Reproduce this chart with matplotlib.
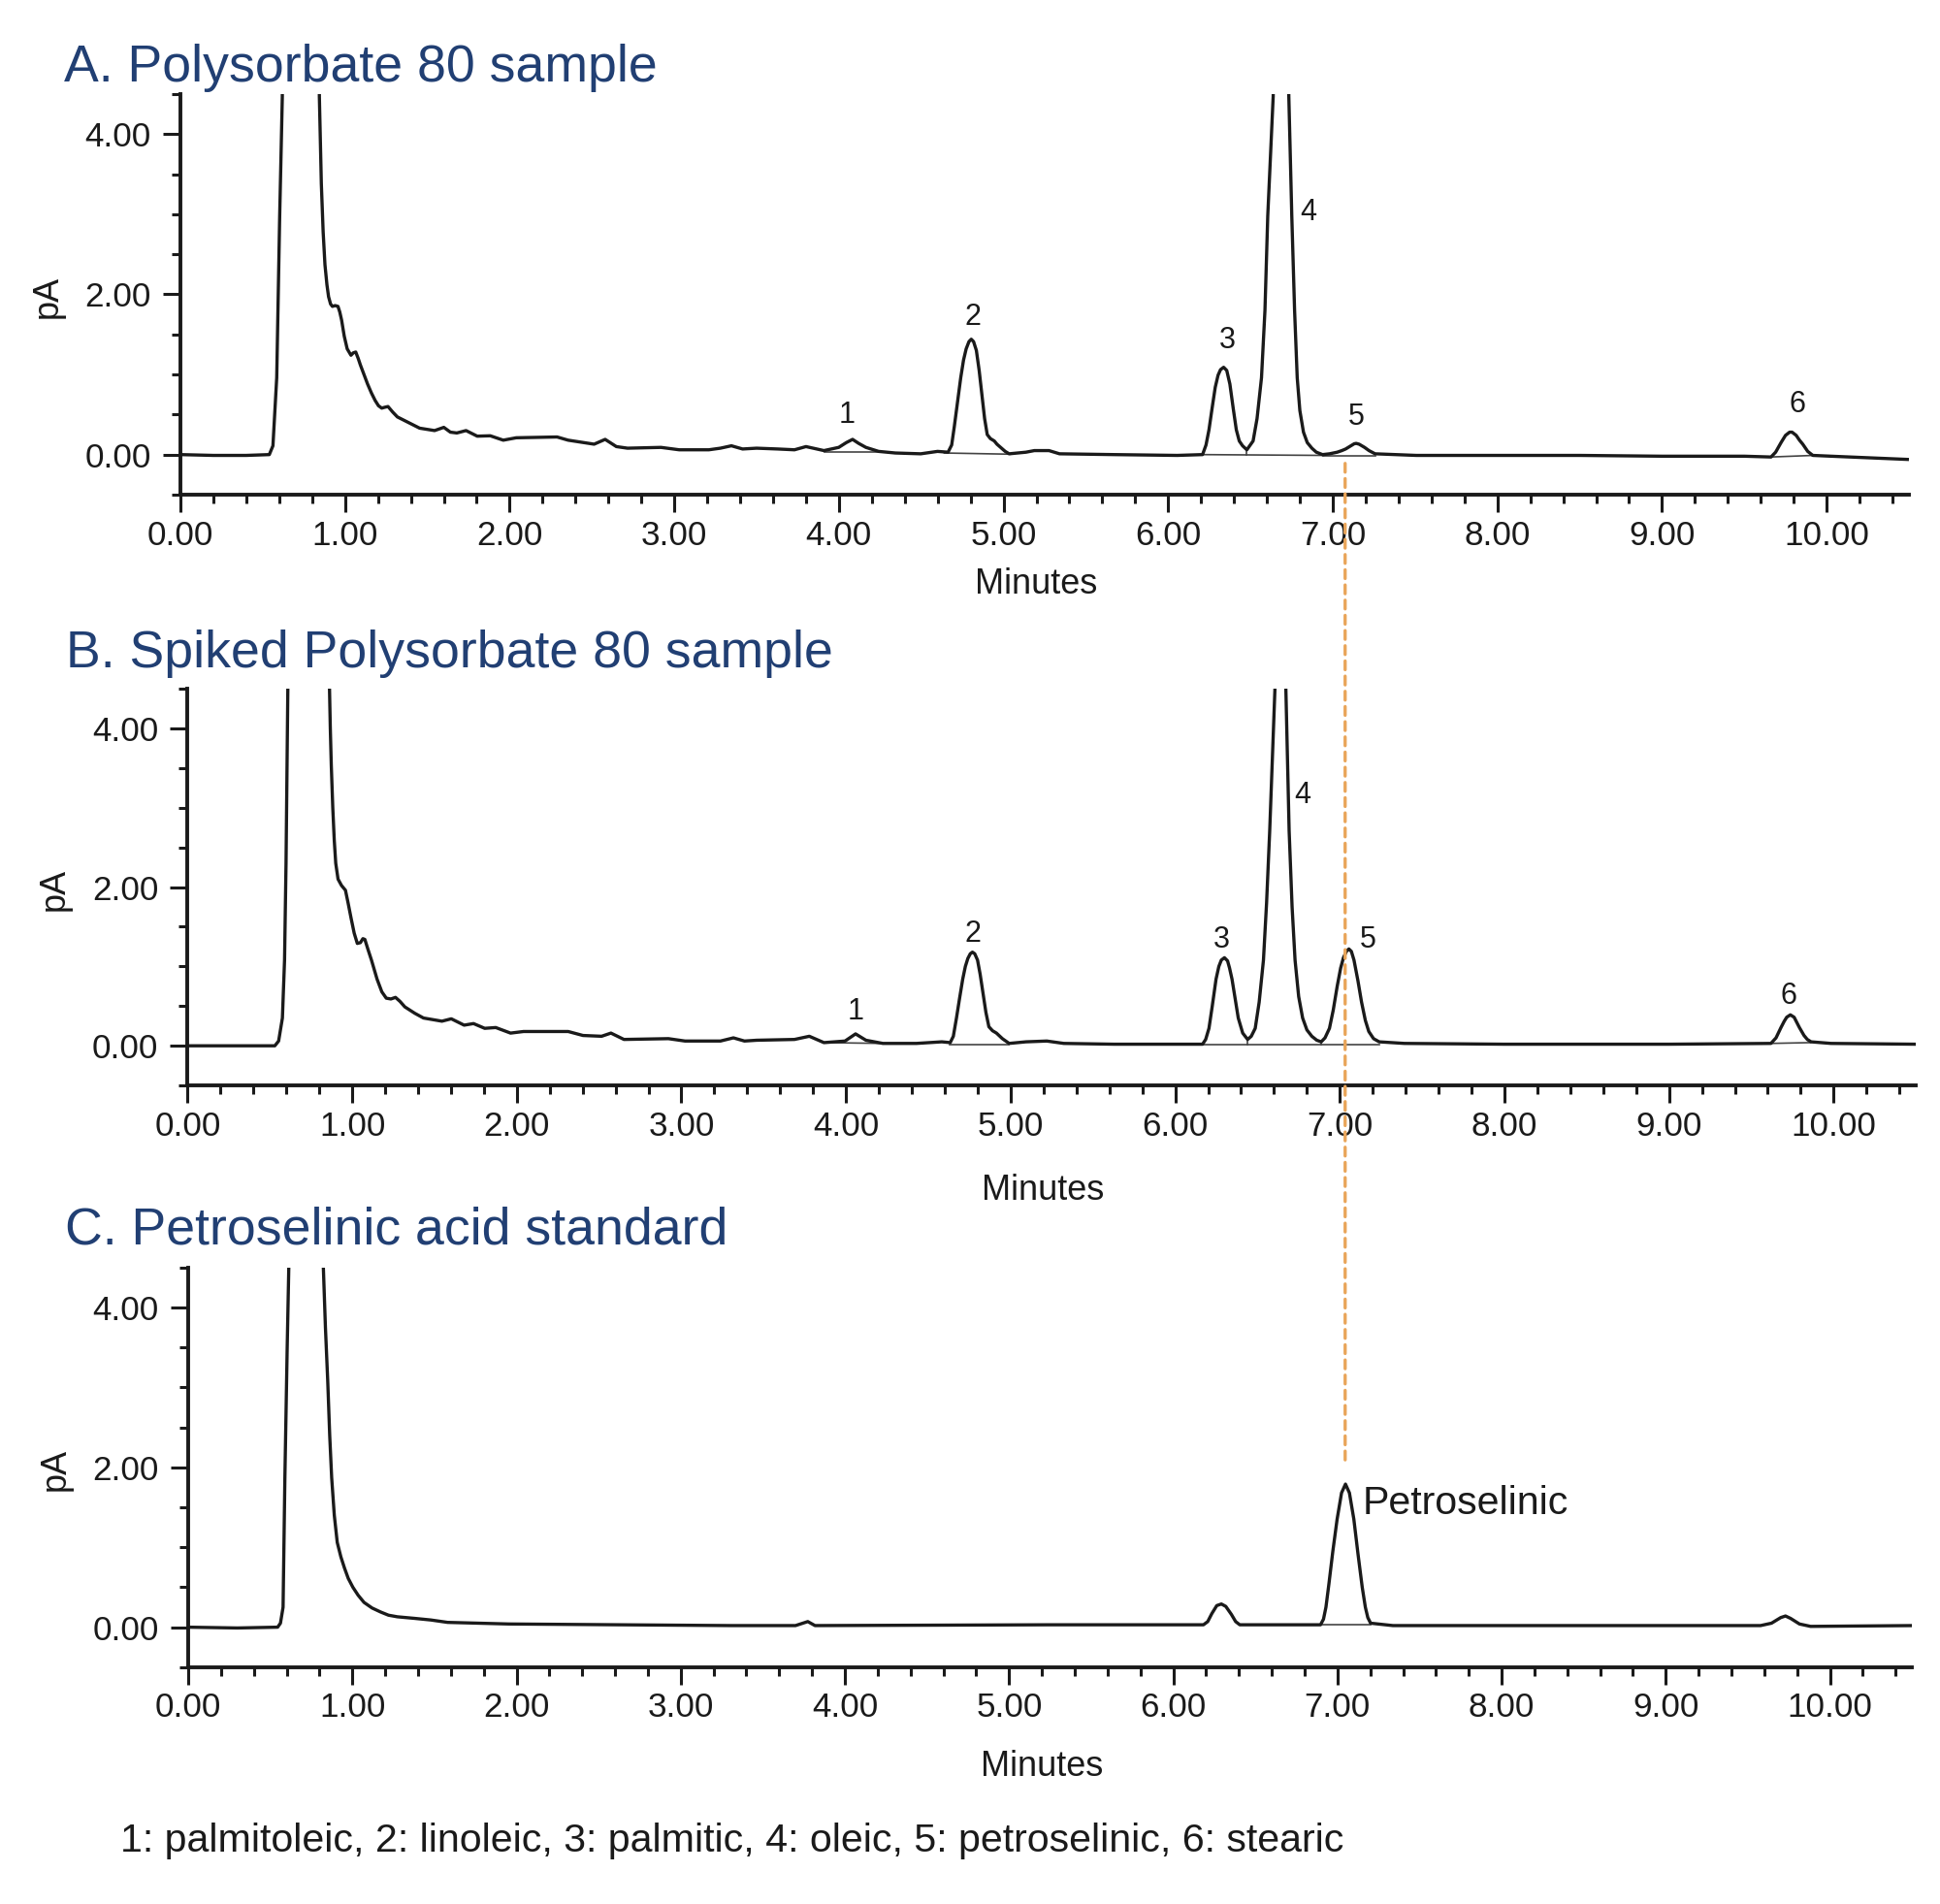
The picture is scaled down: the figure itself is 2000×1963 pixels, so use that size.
import matplotlib
matplotlib.use('Agg')
import matplotlib.pyplot as plt
from matplotlib.patches import ConnectionPatch
from matplotlib.ticker import MultipleLocator, FormatStrFormatter

plt.rcParams['font.family'] = ['Liberation Sans', 'DejaVu Sans']

# A. Polysorbate 80 sample (minutes, pA)
t_a = [0.00, 0.20, 0.40, 0.54, 0.562, 0.585, 0.603, 0.619, 0.73, 0.844, 0.85, 0.856,
       0.867, 0.878, 0.89, 0.900, 0.912, 0.923, 0.94, 0.957, 0.968, 0.979, 0.995, 1.013,
       1.036, 1.05, 1.065, 1.08, 1.093, 1.115, 1.137, 1.16, 1.183, 1.203, 1.223, 1.24,
       1.261, 1.29, 1.318, 1.385, 1.453, 1.544, 1.600, 1.640, 1.679, 1.735, 1.803,
       1.882, 1.961, 2.04, 2.288, 2.355, 2.513, 2.58, 2.648, 2.716, 2.919, 3.03, 3.21,
       3.28, 3.347, 3.415, 3.50, 3.628, 3.73, 3.80, 3.909, 3.999, 4.045, 4.083, 4.12,
       4.164, 4.241, 4.343, 4.497, 4.599, 4.663, 4.685, 4.701, 4.72, 4.74, 4.757, 4.773,
       4.79, 4.804, 4.818, 4.835, 4.852, 4.868, 4.885, 4.901, 4.92, 4.944, 4.96, 4.982,
       5.01, 5.034, 5.136, 5.187, 5.276, 5.34, 5.672, 6.055, 6.209, 6.23, 6.248, 6.267,
       6.286, 6.303, 6.318, 6.337, 6.356, 6.375, 6.395, 6.414, 6.432, 6.452, 6.478,
       6.516, 6.54, 6.567, 6.588, 6.605, 6.638, 6.685, 6.733, 6.751, 6.768, 6.784, 6.80,
       6.822, 6.845, 6.873, 6.90, 6.938, 6.98, 7.027, 7.055, 7.078, 7.11, 7.13, 7.142,
       7.16, 7.193, 7.22, 7.257, 7.507, 8.0, 8.5, 9.0, 9.5, 9.662, 9.69, 9.723, 9.75,
       9.775, 9.79, 9.815, 9.835, 9.855, 9.885, 9.916, 10.027, 10.49]
pa_a = [0.00, -0.01, -0.01, 0.00, 0.11, 0.96, 2.98, 4.47, 60.0, 4.47, 3.9, 3.38,
        2.78, 2.37, 2.12, 1.97, 1.88, 1.85, 1.86, 1.85, 1.78, 1.68, 1.48, 1.32,
        1.24, 1.27, 1.28, 1.20, 1.12, 1.00, 0.88, 0.77, 0.675, 0.61, 0.58, 0.59,
        0.60, 0.53, 0.47, 0.40, 0.33, 0.30, 0.34, 0.28, 0.27, 0.30, 0.23,
        0.235, 0.18, 0.21, 0.22, 0.18, 0.13, 0.19, 0.10, 0.08, 0.09, 0.06, 0.06,
        0.08, 0.11, 0.07, 0.08, 0.07, 0.06, 0.10, 0.05, 0.09, 0.15, 0.19, 0.14,
        0.09, 0.04, 0.02, 0.01, 0.04, 0.03, 0.12, 0.35, 0.65, 0.96, 1.18, 1.32,
        1.41, 1.44, 1.41, 1.30, 1.05, 0.76, 0.45, 0.25, 0.20, 0.17, 0.13, 0.09,
        0.04, 0.01, 0.03, 0.05, 0.05, 0.01, 0.00, -0.01, 0.00, 0.12, 0.31, 0.58,
        0.84, 0.99, 1.06, 1.09, 1.05, 0.88, 0.58, 0.31, 0.17, 0.11, 0.06,
        0.17, 0.45, 0.96, 1.80, 2.98, 4.47, 12.0, 4.47, 2.98, 1.80, 0.96, 0.55,
        0.28, 0.15, 0.08, 0.03, 0.00, 0.01, 0.03, 0.05, 0.07, 0.11, 0.135, 0.14,
        0.13, 0.09, 0.05, 0.01, -0.01, -0.01, -0.01, -0.02, -0.02, -0.03, 0.03, 0.15, 0.24,
        0.28, 0.28, 0.24, 0.18, 0.13, 0.04, -0.01, -0.02, -0.06]

# B. Spiked Polysorbate 80 sample
t_b = [0.00, 0.30, 0.53, 0.553, 0.576, 0.589, 0.598, 0.609, 0.74, 0.862, 0.867, 0.873,
       0.882, 0.891, 0.90, 0.914, 0.935, 0.959, 0.975, 0.993, 1.012, 1.031, 1.05, 1.065,
       1.077, 1.095, 1.117, 1.151, 1.18, 1.207, 1.235, 1.263, 1.29, 1.32, 1.38, 1.433,
       1.545, 1.602, 1.68, 1.737, 1.805, 1.872, 1.962, 2.041, 2.312, 2.402, 2.515,
       2.572, 2.651, 2.921, 3.022, 3.237, 3.316, 3.383, 3.457, 3.687, 3.777, 3.866,
       3.994, 4.058, 4.121, 4.224, 4.428, 4.582, 4.633, 4.652, 4.671, 4.69, 4.709, 4.725,
       4.74, 4.755, 4.768, 4.782, 4.799, 4.815, 4.832, 4.85, 4.868, 4.89, 4.914, 4.95,
       4.991, 5.093, 5.22, 5.323, 5.629, 6.166, 6.185, 6.205, 6.225, 6.248, 6.265, 6.28,
       6.299, 6.318, 6.33, 6.345, 6.365, 6.383, 6.41, 6.44, 6.462, 6.486, 6.51, 6.536,
       6.555, 6.574, 6.606, 6.639, 6.672, 6.692, 6.71, 6.728, 6.75, 6.774, 6.80, 6.83,
       6.86, 6.887, 6.91, 6.937, 6.96, 6.984, 7.005, 7.022, 7.04, 7.055, 7.07, 7.086,
       7.11, 7.132, 7.155, 7.176, 7.205, 7.239, 7.392, 8.0, 8.5, 9.0, 9.619, 9.65, 9.68,
       9.70, 9.715, 9.737, 9.76, 9.775, 9.792, 9.82, 9.84, 9.863, 9.984, 10.50]
pa_b = [0.00, 0.00, 0.00, 0.06, 0.35, 1.08, 2.30, 4.51, 60.0, 4.51, 4.00, 3.53,
        3.00, 2.59, 2.30, 2.10, 2.02, 1.96, 1.80, 1.61, 1.42, 1.29, 1.30, 1.35,
        1.34, 1.22, 1.08, 0.84, 0.68, 0.60, 0.59, 0.61, 0.56, 0.49, 0.41, 0.35,
        0.31, 0.34, 0.26, 0.28, 0.22, 0.23, 0.16, 0.18, 0.18, 0.13, 0.12,
        0.16, 0.08, 0.09, 0.06, 0.06, 0.10, 0.06, 0.07, 0.08, 0.12, 0.04,
        0.06, 0.15, 0.07, 0.03, 0.03, 0.05, 0.04, 0.12, 0.35, 0.60, 0.84, 1.00,
        1.10, 1.16, 1.18, 1.16, 1.08, 0.90, 0.67, 0.42, 0.24, 0.19, 0.16, 0.09,
        0.03, 0.05, 0.06, 0.03, 0.02, 0.02, 0.08, 0.22, 0.50, 0.84, 1.00, 1.08,
        1.11, 1.07, 0.98, 0.84, 0.58, 0.35, 0.16, 0.08, 0.12, 0.22, 0.55, 1.08,
        1.80, 2.71, 4.51, 12.0, 4.51, 2.71, 1.75, 1.08, 0.62, 0.35, 0.20, 0.12,
        0.07, 0.05, 0.10, 0.22, 0.45, 0.75, 0.98, 1.11, 1.19, 1.22, 1.19, 1.08,
        0.82, 0.55, 0.32, 0.18, 0.09, 0.05, 0.03, 0.02, 0.02, 0.02, 0.03, 0.10, 0.23,
        0.31, 0.36, 0.39, 0.36, 0.30, 0.23, 0.13, 0.08, 0.05, 0.03, 0.02]

# C. Petroselinic acid standard
t_c = [0.00, 0.30, 0.545, 0.562, 0.578, 0.589, 0.603, 0.613, 0.72, 0.823, 0.836, 0.850,
       0.862, 0.874, 0.89, 0.908, 0.93, 0.952, 0.975, 1.003, 1.035, 1.071, 1.12, 1.172,
       1.22, 1.274, 1.38, 1.478, 1.58, 1.952, 2.63, 3.309, 3.699, 3.774, 3.818, 5.235,
       6.184, 6.21, 6.235, 6.265, 6.293, 6.32, 6.354, 6.38, 6.405, 6.897, 6.915, 6.93,
       6.948, 6.972, 6.998, 7.025, 7.049, 7.073, 7.10, 7.125, 7.151, 7.17, 7.185, 7.202,
       7.338, 9.577, 9.644, 9.700, 9.729, 9.76, 9.814, 9.882, 10.50]
pa_c = [0.00, -0.01, 0.00, 0.05, 0.25, 1.87, 3.49, 4.52, 60.0, 4.52, 3.75, 3.08,
        2.40, 1.87, 1.40, 1.06, 0.88, 0.74, 0.61, 0.50, 0.40, 0.31, 0.24, 0.19,
        0.15, 0.13, 0.11, 0.09, 0.06, 0.04, 0.03, 0.02, 0.02, 0.07, 0.02, 0.03,
        0.03, 0.07, 0.17, 0.27, 0.29, 0.26, 0.16, 0.07, 0.03, 0.03, 0.10, 0.25,
        0.54, 0.95, 1.35, 1.68, 1.79, 1.68, 1.35, 0.92, 0.50, 0.25, 0.12, 0.05,
        0.02, 0.02, 0.05, 0.12, 0.14, 0.11, 0.04, 0.01, 0.02]

# integration baselines drawn under the peaks: (t0, y0, t1, y1)
base_a = [(3.91, 0.035, 4.24, 0.035), (4.64, 0.02, 5.04, 0.005), (6.21, 0.0, 6.94, -0.01),
          (6.478, 0.06, 6.478, -0.005), (6.94, -0.01, 7.26, -0.01), (9.66, -0.03, 9.92, -0.01)]
base_b = [(3.87, 0.04, 4.22, 0.03), (4.63, 0.02, 4.99, 0.02), (6.17, 0.02, 7.24, 0.02),
          (6.44, 0.08, 6.44, 0.02), (6.887, 0.05, 6.887, 0.02), (9.62, 0.03, 9.86, 0.04)]
base_c = [(6.897, 0.03, 7.202, 0.03)]

# peak numbers
peak_ids = ['1', '2', '3', '4', '5', '6']
lab_t_a = [4.05, 4.816, 6.357, 6.85, 7.142, 9.82]
lab_y_a = [0.49, 1.71, 1.42, 3.02, 0.47, 0.63]
lab_t_b = [4.058, 4.768, 6.281, 6.774, 7.17, 9.725]
lab_y_b = [0.43, 1.41, 1.33, 3.16, 1.33, 0.63]

titles = ['A. Polysorbate 80 sample', 'B. Spiked Polysorbate 80 sample',
          'C. Petroselinic acid standard']
footnote = '1: palmitoleic, 2: linoleic, 3: palmitic, 4: oleic, 5: petroselinic, 6: stearic'

title_color = '#213f73'
ink = '#1a1a1a'
fig = plt.figure(figsize=(10, 9.815), dpi=200)

axA = fig.add_axes([0.093, 0.7402, 0.891, 0.2104])
axB = fig.add_axes([0.0967, 0.4299, 0.8909, 0.2084])
axC = fig.add_axes([0.097, 0.1244, 0.8886, 0.2099])

panels = [(axA, t_a, pa_a, base_a, -0.223), (axB, t_b, pa_b, base_b, -0.264),
          (axC, t_c, pa_c, base_c, -0.25)]
for ax, t, y, base, xl_y in panels:
    for t0, y0, t1, y1 in base:
        ax.plot([t0, t1], [y0, y1], color='#444444', lw=0.6)
    ax.plot(t, y, color=ink, lw=1.2, solid_joinstyle='round')
    ax.set_xlim(0, 10.5)
    ax.set_ylim(-0.5, 4.5)
    for s in ['top', 'right']:
        ax.spines[s].set_visible(False)
    for s in ['left', 'bottom']:
        ax.spines[s].set_linewidth(1.4)
        ax.spines[s].set_color(ink)
    ax.xaxis.set_major_locator(MultipleLocator(1))
    ax.xaxis.set_minor_locator(MultipleLocator(0.2))
    ax.yaxis.set_major_locator(MultipleLocator(2))
    ax.yaxis.set_minor_locator(MultipleLocator(0.5))
    ax.xaxis.set_major_formatter(FormatStrFormatter('%.2f'))
    ax.yaxis.set_major_formatter(FormatStrFormatter('%.2f'))
    ax.tick_params(which='major', length=6.5, width=1.1, labelsize=12.6, color=ink,
                   labelcolor=ink)
    ax.tick_params(which='minor', length=3.4, width=1.1, color=ink)
    ax.tick_params(axis='x', which='major', pad=2.7)
    ax.tick_params(axis='y', which='major', pad=4.3)
    ax.set_xlabel('Minutes', fontsize=13, color=ink, va='center')
    ax.xaxis.set_label_coords(0.495, xl_y)
    ax.set_ylabel('pA', fontsize=13, color=ink, va='center')
    ax.yaxis.set_label_coords(-0.077, 0.495)

for ax, lt, ly in [(axA, lab_t_a, lab_y_a), (axB, lab_t_b, lab_y_b)]:
    for pid, x, y in zip(peak_ids, lt, ly):
        ax.text(x, y, pid, fontsize=11, ha='center', va='center', color=ink)

axC.text(7.15, 1.55, 'Petroselinic', fontsize=14.8, ha='left', va='center', color=ink)

fig.text(0.033, 0.9572, titles[0], fontsize=19.3, color=title_color, va='baseline')
fig.text(0.034, 0.6497, titles[1], fontsize=19.3, color=title_color, va='baseline')
fig.text(0.0335, 0.3466, titles[2], fontsize=19.3, color=title_color, va='baseline')
fig.text(0.062, 0.0275, footnote, fontsize=14.8, color=ink, va='baseline')

# dashed guide through the petroselinic retention time
con = ConnectionPatch(xyA=(7.075, -0.11), coordsA=axA.transData,
                      xyB=(7.047, 2.05), coordsB=axC.transData,
                      color='#e9a55a', lw=1.2, linestyle=(0, (2.7, 2.0)))
fig.add_artist(con)

fig.savefig('out.png', dpi=200)
